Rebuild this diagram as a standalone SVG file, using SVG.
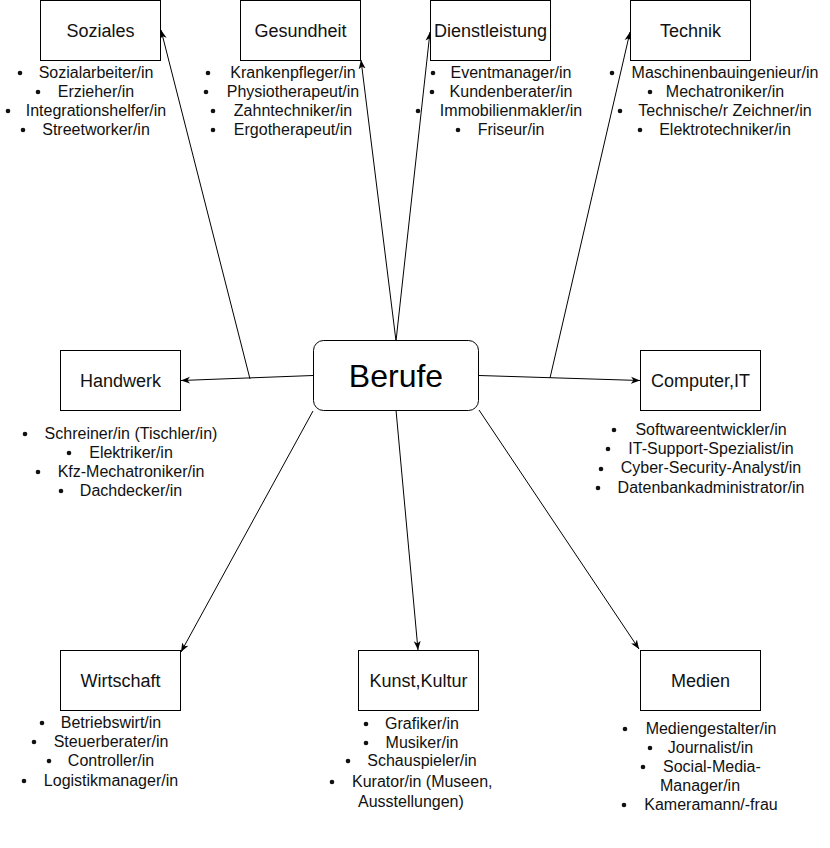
<svg xmlns="http://www.w3.org/2000/svg" width="830" height="848" viewBox="0 0 830 848">
<style>
.box{fill:#fff;stroke:#000;stroke-width:1}
.lbl{font-family:"Liberation Sans",Arial,sans-serif;font-size:18px;fill:#111;text-anchor:middle}
.li{font-family:"Liberation Sans",Arial,sans-serif;font-size:16px;fill:#111;text-anchor:middle}
.ls{font-family:"Liberation Sans",Arial,sans-serif;font-size:16px;fill:#111}
.b{fill:#111}
.e{stroke:#000;stroke-width:1;fill:none;marker-end:url(#arr)}
.p{stroke:#000;stroke-width:1;fill:none}
</style>
<defs>
<marker id="arr" markerUnits="userSpaceOnUse" markerWidth="10" markerHeight="8" refX="9" refY="4" orient="auto">
<path d="M0,0.5 L9,4 L0,7.5 L2.5,4 Z" fill="#000"/>
</marker>
</defs>
<rect width="830" height="848" fill="#fff"/>
<g id="connectors">
<line class="e" x1="313" y1="375.5" x2="181" y2="380.5"/>
<line class="e" x1="479" y1="375.5" x2="640" y2="380.5"/>
<line class="e" x1="250" y1="379" x2="161" y2="30"/>
<line class="e" x1="396" y1="341" x2="361" y2="60"/>
<line class="e" x1="396" y1="341" x2="430" y2="32"/>
<line class="e" x1="550" y1="378" x2="630" y2="32"/>
<line class="e" x1="313" y1="411" x2="181" y2="652"/>
<line class="e" x1="396" y1="410" x2="418" y2="650"/>
<line class="e" x1="479" y1="410" x2="639" y2="649"/>
</g>
<g id="berufe">
<rect x="313.5" y="340.5" width="165" height="70" rx="10" class="box"/>
<text x="396" y="386.5" font-family="Liberation Sans,Arial,sans-serif" font-size="32" fill="#000" text-anchor="middle">Berufe</text>
</g>
<g id="soziales">
<rect x="40.5" y="0.5" width="120" height="60" class="box"/>
<text x="100.5" y="36.5" class="lbl">Soziales</text>
<text x="96" y="77.5" class="li">Sozialarbeiter/in</text>
<text x="96" y="96.5" class="li">Erzieher/in</text>
<text x="96" y="115.5" class="li">Integrationshelfer/in</text>
<text x="96" y="134.5" class="li">Streetworker/in</text>
<circle class="b" cx="20" cy="73" r="2.3"/><circle class="b" cx="38" cy="92" r="2.3"/><circle class="b" cx="8" cy="111" r="2.3"/><circle class="b" cx="23" cy="130" r="2.3"/>
</g>
<g id="gesundheit">
<rect x="240.5" y="0.5" width="120" height="60" class="box"/>
<text x="300.5" y="36.5" class="lbl">Gesundheit</text>
<text x="293" y="77.5" class="li">Krankenpfleger/in</text>
<text x="293" y="96.5" class="li">Physiotherapeut/in</text>
<text x="293" y="115.5" class="li">Zahntechniker/in</text>
<text x="293" y="134.5" class="li">Ergotherapeut/in</text>
<circle class="b" cx="208" cy="73" r="2.3"/><circle class="b" cx="206" cy="92" r="2.3"/><circle class="b" cx="213" cy="111" r="2.3"/><circle class="b" cx="213" cy="130" r="2.3"/>
</g>
<g id="dienstleistung">
<rect x="430.5" y="0.5" width="120" height="60" class="box"/>
<text x="490.5" y="36.5" class="lbl">Dienstleistung</text>
<text x="511" y="77.5" class="li">Eventmanager/in</text>
<text x="511" y="96.5" class="li">Kundenberater/in</text>
<text x="511" y="115.5" class="li">Immobilienmakler/in</text>
<text x="511" y="134.5" class="li">Friseur/in</text>
<circle class="b" cx="433" cy="73" r="2.3"/><circle class="b" cx="432" cy="92" r="2.3"/><circle class="b" cx="418" cy="111" r="2.3"/><circle class="b" cx="458" cy="130" r="2.3"/>
</g>
<g id="technik">
<rect x="630.5" y="0.5" width="120" height="60" class="box"/>
<text x="690.5" y="36.5" class="lbl">Technik</text>
<text x="725" y="77.5" class="li">Maschinenbauingenieur/in</text>
<text x="725" y="96.5" class="li">Mechatroniker/in</text>
<text x="725" y="115.5" class="li">Technische/r Zeichner/in</text>
<text x="725" y="134.5" class="li">Elektrotechniker/in</text>
<circle class="b" cx="612" cy="73" r="2.3"/><circle class="b" cx="650" cy="92" r="2.3"/><circle class="b" cx="620" cy="111" r="2.3"/><circle class="b" cx="640" cy="130" r="2.3"/>
</g>
<g id="handwerk">
<rect x="60.5" y="350.5" width="120" height="60" class="box"/>
<text x="120.5" y="386.5" class="lbl">Handwerk</text>
<text x="131" y="438.5" class="li">Schreiner/in (Tischler/in)</text>
<text x="131" y="457.5" class="li">Elektriker/in</text>
<text x="131" y="476.5" class="li">Kfz-Mechatroniker/in</text>
<text x="131" y="495.5" class="li">Dachdecker/in</text>
<circle class="b" cx="25" cy="434" r="2.3"/><circle class="b" cx="69" cy="453" r="2.3"/><circle class="b" cx="38" cy="472" r="2.3"/><circle class="b" cx="61" cy="491" r="2.3"/>
</g>
<g id="computer">
<rect x="640.5" y="350.5" width="120" height="60" class="box"/>
<text x="700.5" y="386.5" class="lbl">Computer,IT</text>
<text x="711" y="434.5" class="li">Softwareentwickler/in</text>
<text x="711" y="453.5" class="li">IT-Support-Spezialist/in</text>
<text x="711" y="473" class="li">Cyber-Security-Analyst/in</text>
<text x="711" y="492.5" class="li">Datenbankadministrator/in</text>
<circle class="b" cx="614" cy="430" r="2.3"/><circle class="b" cx="608" cy="449" r="2.3"/><circle class="b" cx="601" cy="469" r="2.3"/><circle class="b" cx="598" cy="488" r="2.3"/>
</g>
<g id="wirtschaft">
<rect x="60.5" y="650.5" width="120" height="60" class="box"/>
<text x="120.5" y="686.5" class="lbl">Wirtschaft</text>
<text x="111" y="727.5" class="li">Betriebswirt/in</text>
<text x="111" y="746.5" class="li">Steuerberater/in</text>
<text x="111" y="765.5" class="li">Controller/in</text>
<text x="111" y="785.5" class="li">Logistikmanager/in</text>
<circle class="b" cx="42" cy="723" r="2.3"/><circle class="b" cx="34" cy="742" r="2.3"/><circle class="b" cx="49" cy="761" r="2.3"/><circle class="b" cx="24" cy="781" r="2.3"/>
</g>
<g id="kunst">
<rect x="358.5" y="650.5" width="120" height="60" class="box"/>
<text x="418.5" y="686.5" class="lbl">Kunst,Kultur</text>
<text x="422" y="728.5" class="li">Grafiker/in</text>
<text x="422" y="747.5" class="li">Musiker/in</text>
<text x="422" y="765.5" class="li">Schauspieler/in</text>
<text x="352" y="786.5" class="ls">Kurator/in (Museen,</text>
<text x="358" y="806.5" class="ls">Ausstellungen)</text>
<circle class="b" cx="366" cy="724" r="2.3"/><circle class="b" cx="366" cy="743" r="2.3"/><circle class="b" cx="348" cy="761" r="2.3"/><circle class="b" cx="332" cy="782" r="2.3"/>
</g>
<g id="medien">
<rect x="640.5" y="650.5" width="120" height="60" class="box"/>
<text x="700.5" y="686.5" class="lbl">Medien</text>
<text x="711" y="733.5" class="li">Mediengestalter/in</text>
<text x="710.5" y="752.5" class="li">Journalist/in</text>
<text x="663" y="771.5" class="ls">Social-Media-</text>
<text x="660" y="790.5" class="ls">Manager/in</text>
<text x="711" y="809.5" class="li">Kameramann/-frau</text>
<circle class="b" cx="625" cy="729" r="2.3"/><circle class="b" cx="650" cy="748" r="2.3"/><circle class="b" cx="643" cy="767" r="2.3"/><circle class="b" cx="624" cy="805" r="2.3"/>
</g>
</svg>
